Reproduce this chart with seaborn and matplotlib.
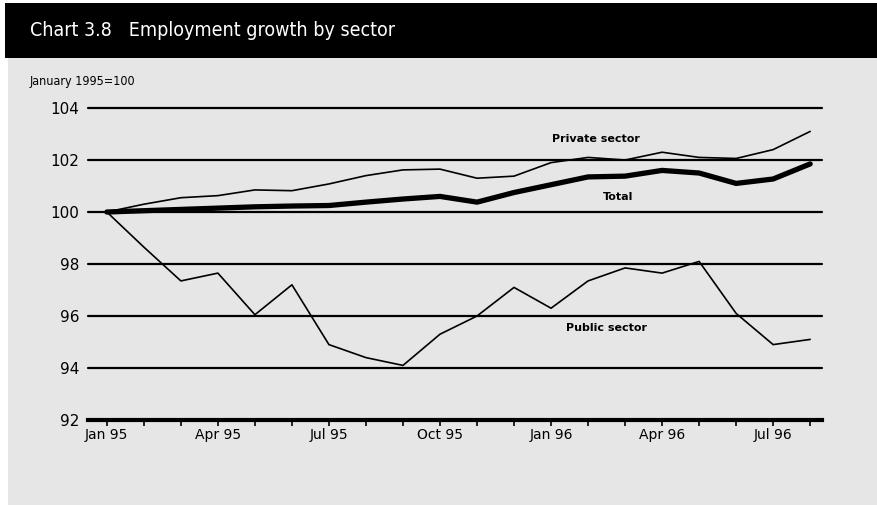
import matplotlib.pyplot as plt
import matplotlib.patches as mpatches
import seaborn as sns
import pandas as pd

# Données (janvier 1995 = 100)
months = ['Jan 95', 'Feb 95', 'Mar 95', 'Apr 95', 'May 95', 'Jun 95', 'Jul 95',
          'Aug 95', 'Sep 95', 'Oct 95', 'Nov 95', 'Dec 95', 'Jan 96', 'Feb 96',
          'Mar 96', 'Apr 96', 'May 96', 'Jun 96', 'Jul 96', 'Aug 96']
private_sector = [100.0, 100.3, 100.55, 100.63, 100.85, 100.82, 101.08, 101.4, 101.62, 101.65,
                  101.3, 101.38, 101.9, 102.1, 102.0, 102.3, 102.1, 102.06, 102.4, 103.1]
total = [100.0, 100.05, 100.1, 100.15, 100.2, 100.23, 100.25, 100.38, 100.5, 100.6,
         100.38, 100.75, 101.05, 101.35, 101.38, 101.6, 101.5, 101.1, 101.27, 101.85]
public_sector = [100.0, 98.65, 97.35, 97.65, 96.05, 97.2, 94.9, 94.4, 94.1, 95.3,
                 96.0, 97.1, 96.3, 97.35, 97.85, 97.65, 98.1, 96.1, 94.9, 95.1]
tick_labels = ['Jan 95', 'Apr 95', 'Jul 95', 'Oct 95', 'Jan 96', 'Apr 96', 'Jul 96']
y_ticks = [92, 94, 96, 98, 100, 102, 104]

df = pd.DataFrame({
    'month': range(len(months)),
    'Private sector': private_sector,
    'Total': total,
    'Public sector': public_sector,
})

sns.set_theme(style='white')
plt.rcParams['font.family'] = ['DejaVu Sans']
plt.rcParams['text.color'] = 'black'
plt.rcParams['xtick.color'] = 'black'
plt.rcParams['ytick.color'] = 'black'

fig = plt.figure(figsize=(8.77, 5.05), dpi=100)
fig.patch.set_facecolor('white')

# Fond gris + bandeau noir du titre
fig.add_artist(mpatches.Rectangle((0.009, 0), 0.991, 0.886, transform=fig.transFigure,
                                  facecolor='#e6e6e6', edgecolor='none', zorder=0))
fig.add_artist(mpatches.Rectangle((0.006, 0.886), 0.994, 0.108, transform=fig.transFigure,
                                  facecolor='black', edgecolor='none', zorder=0))
fig.text(0.034, 0.94, 'Chart 3.8   Employment growth by sector', color='white',
         fontsize=14, fontstretch='condensed', va='center', ha='left')
fig.text(0.034, 0.838, 'January 1995=100', color='black', fontsize=9,
         fontstretch='condensed', va='center', ha='left')

ax = fig.add_axes([0.1003, 0.1683, 0.837, 0.6178])
ax.set_facecolor('none')

for y in y_ticks[1:]:
    ax.axhline(y, color='black', lw=1.6, zorder=1, clip_on=False)

sns.lineplot(data=df, x='month', y='Private sector', ax=ax, color='black', lw=1.2, zorder=3)
sns.lineplot(data=df, x='month', y='Total', ax=ax, color='black', lw=3.8, zorder=3)
sns.lineplot(data=df, x='month', y='Public sector', ax=ax, color='black', lw=1.2, zorder=3)

ax.text(13.2, 102.8, 'Private sector', fontsize=8, fontweight='bold', ha='center', va='center')
ax.text(13.8, 100.58, 'Total', fontsize=8, fontweight='bold', ha='center', va='center')
ax.text(13.5, 95.55, 'Public sector', fontsize=8, fontweight='bold', ha='center', va='center')

ax.set_xlim(-0.51, 19.32)
ax.set_ylim(92, 104)
ax.set_xticks(range(len(months)))
ax.set_xticklabels([m if m in tick_labels else '' for m in months], fontsize=10)
ax.set_yticks(y_ticks)
ax.set_yticklabels([str(v) for v in y_ticks], fontsize=11)
ax.tick_params(axis='x', bottom=True, direction='out', length=4, width=1.2,
               color='black', pad=2)
ax.tick_params(axis='y', left=False, length=0, pad=6)
ax.set_xlabel('')
ax.set_ylabel('')

for side in ['top', 'right', 'left']:
    ax.spines[side].set_visible(False)
ax.spines['bottom'].set_color('black')
ax.spines['bottom'].set_linewidth(3)

fig.savefig('out.png', dpi=100)
